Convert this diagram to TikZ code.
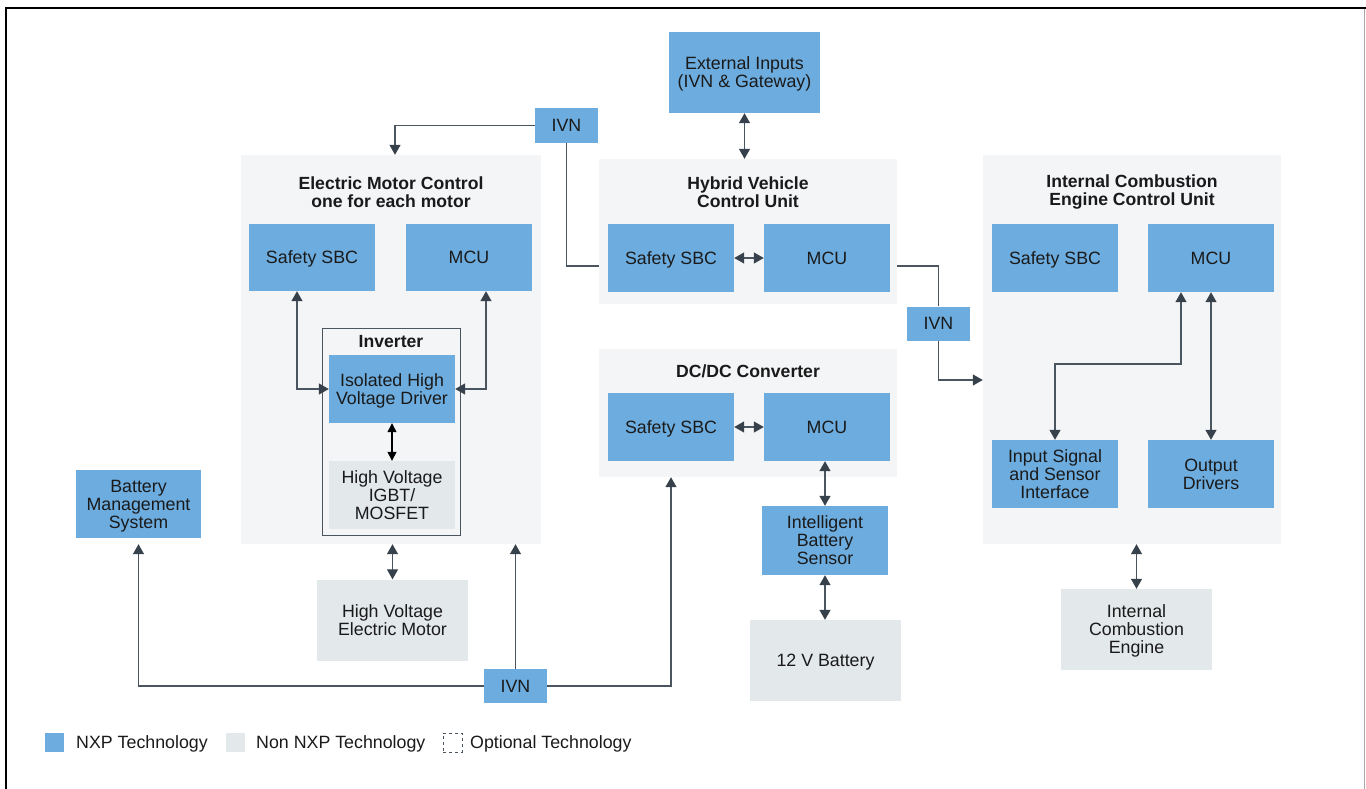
\documentclass[tikz,border=0pt]{standalone}
\usepackage{fontspec}
\setmainfont{Liberation Sans}
\usetikzlibrary{arrows.meta}
\definecolor{nxpblue}{HTML}{6DACDE}
\definecolor{nonnxp}{HTML}{E3E8EB}
\definecolor{contbg}{HTML}{F4F5F7}
\definecolor{linec}{HTML}{4B555F}
\definecolor{tipc}{HTML}{36414B}
\definecolor{txt}{HTML}{1A1A1A}
\tikzset{
  every node/.style={font=\fontsize{17.8}{18}\selectfont, text=txt},
  blk/.style={inner sep=0, align=center, text depth=0pt, minimum width=126, minimum height=68},
  nxpbox/.style={blk, fill=nxpblue},
  grybox/.style={blk, fill=nonnxp},
  ivnbox/.style={inner sep=0, fill=nxpblue, minimum width=63, minimum height=35},
  cont/.style={inner sep=0, fill=contbg},
  ctitle/.style={inner sep=0, align=center, font=\bfseries\fontsize{17.6}{18}\selectfont},
  conn/.style={draw=linec, line width=1.3pt},
  arr/.style={conn, -{Triangle[length=10pt,width=11pt,color=tipc]}},
  dbl/.style={conn, {Triangle[length=10pt,width=11pt,color=tipc]}-{Triangle[length=10pt,width=11pt,color=tipc]}},
  dblk/.style={draw=black, line width=1.3pt, {Triangle[length=9pt,width=9pt]}-{Triangle[length=9pt,width=9pt]}},
  legtxt/.style={inner sep=0, anchor=base west},
}
\begin{document}
\begin{tikzpicture}[x=1pt,y=-1pt]
\useasboundingbox (0,0) rectangle (1366,788);
% frame
\draw[black, line width=2.3pt] (6,800) -- (6,8) -- (1366,8);
\draw[gray!70, line width=1pt] (1364.5,9) -- (1364.5,800);

% containers
\node[cont, minimum width=300, minimum height=389] (emc) at (391,349.5) {};
\node[cont, minimum width=298, minimum height=145] (hvcu) at (748,231.5) {};
\node[cont, minimum width=298, minimum height=128] (dcdc) at (748,413) {};
\node[cont, minimum width=298, minimum height=389] (ice) at (1132,349.5) {};

\node[ctitle] (emct) at (391,192) {Electric Motor Control\\one for each motor};
\node[ctitle] (hvcut) at (748,192) {Hybrid Vehicle\\Control Unit};
\node[ctitle] (dcdct) at (748,371) {DC/DC Converter};
\node[ctitle] (icet) at (1132,192) {Internal Combustion\\Engine Control Unit};

% top
\node[nxpbox, minimum width=151, minimum height=81] (ext) at (744.5,72.5) {External Inputs\\(IVN \& Gateway)};
\node[ivnbox] (ivn1) at (566.5,125.5) {IVN};

% EMC
\node[nxpbox, minimum height=67] (esbc) at (312,257.5) {Safety SBC};
\node[nxpbox, minimum height=67] (emcu) at (469,257.5) {MCU};
\node[draw=linec, line width=1pt, inner sep=0, minimum width=138, minimum height=207] (inv) at (391,431.5) {};
\node[ctitle] (invt) at (391,342) {Inverter};
\node[nxpbox] (drv) at (392,389) {Isolated High\\Voltage Driver};
\node[grybox] (igbt) at (392,495) {High Voltage\\IGBT/\\MOSFET};
\node[grybox, minimum width=151, minimum height=81] (motor) at (392.5,620) {High Voltage\\Electric Motor};
\node[nxpbox, minimum width=125] (bms) at (138.5,504) {Battery\\Management\\System};
\node[ivnbox, minimum height=34] (ivn3) at (515.5,686) {IVN};

% HVCU
\node[nxpbox] (hsbc) at (671,258) {Safety SBC};
\node[nxpbox] (hmcu) at (827,258) {MCU};

% DCDC
\node[nxpbox] (dsbc) at (671,427) {Safety SBC};
\node[nxpbox] (dmcu) at (827,427) {MCU};
\node[nxpbox, minimum height=69] (ibs) at (825,540.5) {Intelligent\\Battery\\Sensor};
\node[grybox, minimum width=151, minimum height=81] (bat) at (825.5,660.5) {12 V Battery};

% ICE
\node[ivnbox, minimum height=34] (ivn2) at (938.5,323.5) {IVN};
\node[nxpbox] (isbc) at (1055,258) {Safety SBC};
\node[nxpbox] (imcu) at (1211,258) {MCU};
\node[nxpbox] (isi) at (1055,474) {Input Signal\\and Sensor\\Interface};
\node[nxpbox] (odr) at (1211,474) {Output\\Drivers};
\node[grybox, minimum width=151, minimum height=81] (eng) at (1136.5,629.5) {Internal\\Combustion\\Engine};

% helper coordinates
\coordinate (hy) at (0,266);
\coordinate (iy) at (0,380);
\coordinate (ky) at (0,364);

% connectors
\draw[dbl] (ext.south) -- (ext.south |- hvcu.north);
\draw[arr] (ivn1.west) -| ([xshift=4pt]emc.north);
\draw[conn] (ivn1.south) |- (hvcu.west |- hy);
\draw[conn] (hvcu.east |- hy) -| (ivn2.north);
\draw[arr] (ivn2.south) |- (ice.west |- iy);
\draw[dbl] (hsbc.east) -- (hmcu.west);
\draw[dbl] (dsbc.east) -- (dmcu.west);
\draw[dbl] (ibs.north |- dmcu.south) -- (ibs.north);
\draw[dbl] (ibs.south) -- (ibs.south |- bat.north);
\draw[arr] (ivn3.east) -| (dsbc.south |- dcdc.south);
\draw[arr] (ivn3.north) -- (ivn3.north |- emc.south);
\draw[arr, shorten >=6pt] (ivn3.west) -| (bms.south);
\draw[dbl] (motor.north |- emc.south) -- (motor.north);
\draw[dbl] ([xshift=-15pt]esbc.south) |- (drv.west);
\draw[dbl] ([xshift=17pt]emcu.south) |- (drv.east);
\draw[dblk] (drv.south) -- (igbt.north);
\draw[dbl] ([xshift=-30pt]imcu.south) |- (isi.north |- ky) -- (isi.north);
\draw[dbl] (imcu.south) -- (odr.north);
\draw[dbl] (eng.north |- ice.south) -- (eng.north);

% legend
\node[inner sep=0, fill=nxpblue, minimum width=19, minimum height=19] (lg1) at (54.5,742.5) {};
\node[legtxt] (lg1t) at (76,748.5) {NXP Technology};
\node[inner sep=0, fill=nonnxp, minimum width=19, minimum height=19] (lg2) at (235.5,742.5) {};
\node[legtxt] (lg2t) at (256,748.5) {Non NXP Technology};
\node[inner sep=0, draw=linec, dash pattern=on 3pt off 3pt, line width=0.9pt, minimum width=19, minimum height=19] (lg3) at (452.5,742.5) {};
\node[legtxt] (lg3t) at (470,748.5) {Optional Technology};
\end{tikzpicture}
\end{document}
